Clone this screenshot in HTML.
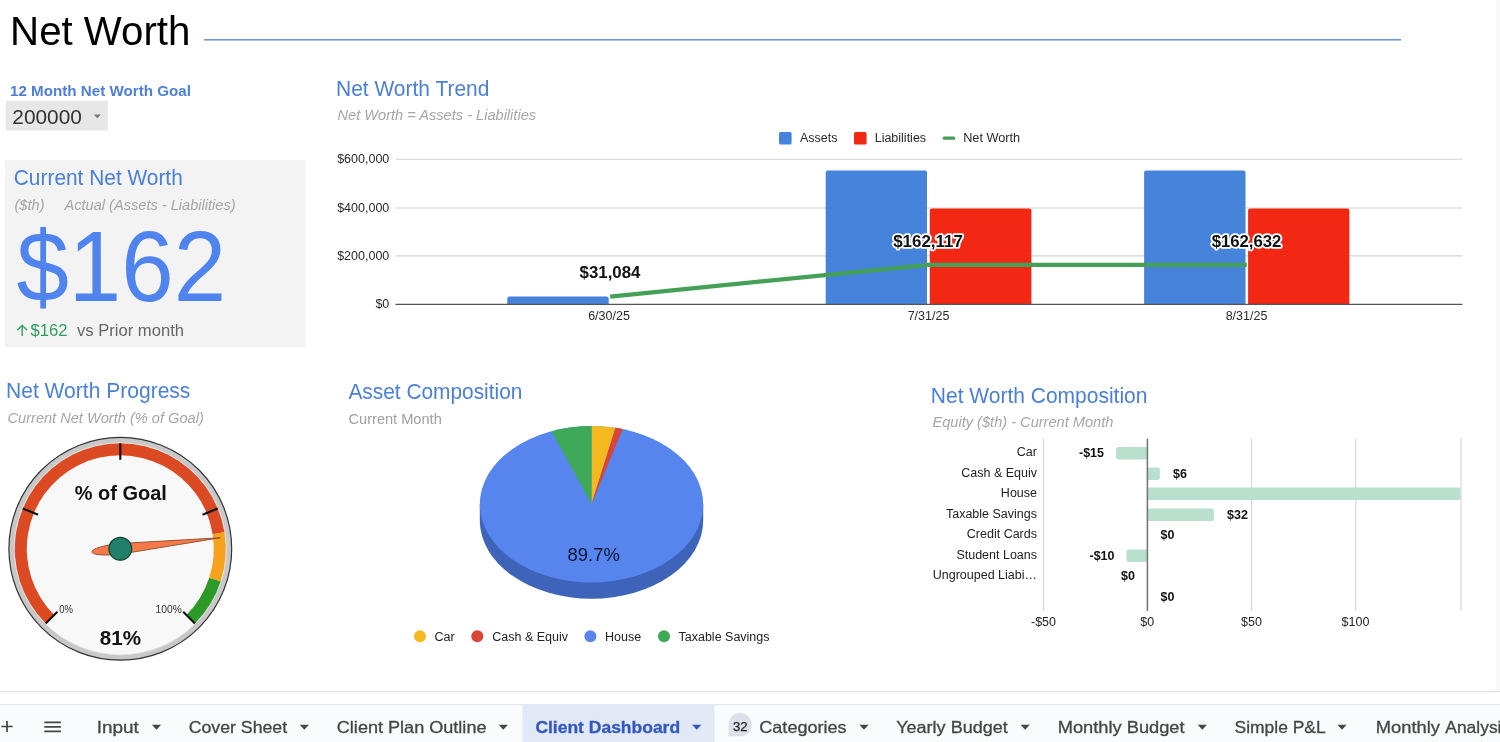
<!DOCTYPE html>
<html><head><meta charset="utf-8"><title>Net Worth</title>
<style>
html,body{margin:0;padding:0;background:#fff;width:1500px;height:742px;overflow:hidden}
svg{display:block;position:absolute;left:0;top:0}
text{font-family:"Liberation Sans",sans-serif}
.b{font-weight:bold}
.i{font-style:italic}
.blue{fill:#4a7fdc}
.gr{fill:#a6a6a6}
.ax{font-size:12.5px;fill:#2a2a2a}
.tab{font-size:16.5px;stroke-width:.3px}
.lg{font-size:12.5px;fill:#222}
</style></head><body>
<svg width="1500" height="742" viewBox="0 0 1500 742">
<rect width="1500" height="742" fill="#fff"/>
<!-- HEADER -->
<g id="header">
<text x="10.1" y="44.7" font-size="41.2" fill="#000" textLength="180.3" lengthAdjust="spacingAndGlyphs">Net Worth</text>
<rect x="204" y="39" width="1197" height="1.6" fill="#6f95dc"/>
<text x="10" y="96" font-size="13.8" class="b" fill="#4d7fdb" textLength="181" lengthAdjust="spacingAndGlyphs">12 Month Net Worth Goal</text>
<rect x="5.8" y="100.7" width="102" height="29.8" fill="#e7e7e7"/>
<text x="12.3" y="123.5" font-size="21" fill="#333" textLength="69.5" lengthAdjust="spacingAndGlyphs">200000</text>
<path d="M93.7 114.6h7.2l-3.6 3.7z" fill="#777"/>
</g>
<!-- CARD -->
<g id="card">
<rect x="4.8" y="160" width="300.8" height="187.3" fill="#f3f3f3"/>
<text x="13.8" y="185.2" font-size="21.5" class="blue" textLength="169" lengthAdjust="spacingAndGlyphs">Current Net Worth</text>
<text x="14.5" y="210" font-size="14.6" class="i gr">($th)</text>
<text x="64.5" y="210" font-size="14.6" class="i gr">Actual (Assets - Liabilities)</text>
<text x="16.4" y="300.5" font-size="99.3" fill="#4f83ee" textLength="209.7" lengthAdjust="spacingAndGlyphs">$162</text>
<path d="M22.2 335.9v-10.6M17.4 330.1l4.8-4.8 4.8 4.8" stroke="#3fa56b" stroke-width="1.5" fill="none"/>
<text x="30.5" y="335.5" font-size="16.6" fill="#2f9e5c">$162</text>
<text x="77" y="335.5" font-size="16.6" fill="#666">vs Prior month</text>
</g>
<!-- TREND -->
<g id="trend">
<text x="336" y="96.4" font-size="21.5" class="blue" textLength="153.4" lengthAdjust="spacingAndGlyphs">Net Worth Trend</text>
<text x="337.5" y="119.5" font-size="14.6" class="i gr">Net Worth = Assets - Liabilities</text>
<rect x="779" y="132" width="12.6" height="12.4" rx="1.5" fill="#4684dc"/>
<text x="800" y="141.7" class="ax">Assets</text>
<rect x="854" y="132" width="12.6" height="12.4" rx="1.5" fill="#f22814"/>
<text x="874.7" y="141.7" class="ax">Liabilities</text>
<rect x="942.6" y="136.6" width="12.6" height="3.2" rx="1.5" fill="#44a056"/>
<text x="963.2" y="141.7" class="ax" textLength="57" lengthAdjust="spacingAndGlyphs">Net Worth</text>
<g stroke="#d2d2d2" stroke-width="1.1">
<path d="M395.5 159.3H1462.5M395.5 208H1462.5M395.5 255.9H1462.5"/>
</g>
<text x="389.3" y="163.2" class="ax" text-anchor="end">$600,000</text>
<text x="389.3" y="211.7" class="ax" text-anchor="end">$400,000</text>
<text x="389.3" y="259.9" class="ax" text-anchor="end">$200,000</text>
<text x="389.3" y="308.2" class="ax" text-anchor="end">$0</text>
<path d="M507.3 304.4V298.6a2 2 0 0 1 2-2H606.7a2 2 0 0 1 2 2V304.4z" fill="#4684dc"/>
<path d="M825.7 304.4V172.4a2 2 0 0 1 2-2H925.0a2 2 0 0 1 2 2V304.4z" fill="#4684dc"/>
<path d="M929.8 304.4V210.5a2 2 0 0 1 2-2H1029.4a2 2 0 0 1 2 2V304.4z" fill="#f22814"/>
<path d="M1144.1 304.4V172.4a2 2 0 0 1 2-2H1243.5a2 2 0 0 1 2 2V304.4z" fill="#4684dc"/>
<path d="M1248.1 304.4V210.5a2 2 0 0 1 2-2H1347.4a2 2 0 0 1 2 2V304.4z" fill="#f22814"/>
<path d="M395.5 304.4H1462.5" stroke="#555" stroke-width="1.3"/>
<path d="M610.2 296.6L928.4 264.8H1246.8" stroke="#44a056" stroke-width="4.2" fill="none" stroke-linejoin="round"/>
<text x="610" y="277.6" font-size="16" class="b" fill="#111" text-anchor="middle" textLength="60.8" lengthAdjust="spacingAndGlyphs">$31,084</text>
<text x="928" y="246.500" font-size="16" class="b" fill="#111" stroke="#fff" stroke-width="3.500" paint-order="stroke" stroke-linejoin="round" text-anchor="middle" textLength="69.7" lengthAdjust="spacingAndGlyphs">$162,117</text>
<text x="1246.500" y="246.500" font-size="16" class="b" fill="#111" stroke="#fff" stroke-width="3.500" paint-order="stroke" stroke-linejoin="round" text-anchor="middle" textLength="69.7" lengthAdjust="spacingAndGlyphs">$162,632</text>
<text x="609" y="319.6" class="ax" text-anchor="middle">6/30/25</text>
<text x="928.500" y="319.6" class="ax" text-anchor="middle">7/31/25</text>
<text x="1246.500" y="319.6" class="ax" text-anchor="middle">8/31/25</text>
</g>
<!-- GAUGE -->
<g id="gauge">
<text x="6" y="398.4" font-size="21.5" class="blue" textLength="184.4" lengthAdjust="spacingAndGlyphs">Net Worth Progress</text>
<text x="7.5" y="423" font-size="14.6" class="i gr">Current Net Worth (% of Goal)</text>
<circle cx="120.3" cy="548.8" r="111.4" fill="#c8c8c8" stroke="#333" stroke-width="1.2"/>
<circle cx="120.3" cy="548.8" r="106" fill="#f8f8f8" stroke="#e2e2e2" stroke-width="0.8"/>
<path d="M45.70 623.40A105.5 105.5 0 1 1 224.50 532.30L212.65 534.17A93.5 93.5 0 1 0 54.19 614.91Z" fill="#dc4a23"/>
<path d="M224.50 532.30A105.5 105.5 0 0 1 220.64 581.40L209.22 577.69A93.5 93.5 0 0 0 212.65 534.17Z" fill="#f6a21e"/>
<path d="M220.64 581.40A105.5 105.5 0 0 1 194.90 623.40L186.41 614.91A93.5 93.5 0 0 0 209.22 577.69Z" fill="#2d9a27"/>
<path d="M45.70 623.40L57.37 611.73M22.83 508.43L38.07 514.74M120.30 443.30L120.30 459.80M217.77 508.43L202.53 514.74M194.90 623.40L183.23 611.73" stroke="#111" stroke-width="2.1" fill="none"/>
<path d="M220.19 537.77L120.88 554.07C104.98 555.82 92.32 555.11 91.97 551.93C91.62 548.75 103.82 545.29 119.72 543.53Z" fill="#f47a4a" stroke="#8c4a2c" stroke-width="0.9"/>
<circle cx="120.3" cy="548.8" r="11.4" fill="#1f7f68" stroke="#143d33" stroke-width="1.2"/>
<text x="120.8" y="499.5" font-size="20" class="b" fill="#111" text-anchor="middle">% of Goal</text>
<text x="120.4" y="644.7" font-size="21" class="b" fill="#111" text-anchor="middle" textLength="41.2" lengthAdjust="spacingAndGlyphs">81%</text>
<text x="59.2" y="613.4" font-size="10.3" fill="#333" textLength="13.8" lengthAdjust="spacingAndGlyphs">0%</text>
<text x="155.6" y="613.4" font-size="10.3" fill="#333" textLength="26.2" lengthAdjust="spacingAndGlyphs">100%</text>
</g>
<!-- PIE -->
<g id="pie">
<text x="348.4" y="399" font-size="21.5" class="blue" textLength="174" lengthAdjust="spacingAndGlyphs">Asset Composition</text>
<text x="348.5" y="423.5" font-size="14.6" fill="#a0a0a0">Current Month</text>
<path d="M479.8 504.2v16.3A111.7 78.2 0 0 0 703.2 520.5v-16.3z" fill="#3d64b9"/>
<ellipse cx="591.5" cy="504.2" rx="111.7" ry="78.2" fill="#5785ee"/>
<path d="M591.5 504.2L591.50 426.00A111.7 78.2 0 0 1 615.52 427.83Z" fill="#f4b91f"/>
<path d="M591.5 504.2L615.52 427.83A111.7 78.2 0 0 1 622.66 429.11Z" fill="#db4437"/>
<path d="M591.5 504.2L551.69 431.14A111.7 78.2 0 0 1 591.50 426.00Z" fill="#3eaa57"/>
<text x="593.7" y="561.2" font-size="18.4" fill="#0b1633" text-anchor="middle">89.7%</text>
<circle cx="420" cy="636.3" r="6" fill="#f4b91f"/>
<text x="434.5" y="641" class="lg">Car</text>
<circle cx="477.3" cy="636.3" r="6" fill="#db4437"/>
<text x="492.3" y="641" class="lg">Cash &amp; Equiv</text>
<circle cx="590.4" cy="636.3" r="6" fill="#5785ee"/>
<text x="605" y="641" class="lg">House</text>
<circle cx="664" cy="636.3" r="6" fill="#3eaa57"/>
<text x="678.5" y="641" class="lg">Taxable Savings</text>
</g>
<!-- HBAR -->
<g id="hbar">
<text x="930.8" y="403" font-size="21.5" class="blue" textLength="216.6" lengthAdjust="spacingAndGlyphs">Net Worth Composition</text>
<text x="932.5" y="426.5" font-size="14.6" class="i gr">Equity ($th) - Current Month</text>
<path d="M1043.5 438.6V611M1251.5 438.6V611M1355.8 438.6V611M1461 438.6V611" stroke="#d6d6d6" stroke-width="1.1" fill="none"/>
<rect x="1116.1" y="447.0" width="31.2" height="12.4" rx="2" fill="#b8e0cd"/>
<rect x="1147.3" y="467.5" width="12.5" height="12.4" rx="2" fill="#b8e0cd"/>
<rect x="1147.3" y="487.6" width="313.2" height="12.4" rx="2" fill="#b8e0cd"/>
<rect x="1147.3" y="508.5" width="66.6" height="12.4" rx="2" fill="#b8e0cd"/>
<rect x="1126.5" y="549.5" width="20.8" height="12.4" rx="2" fill="#b8e0cd"/>
<text x="1037" y="456.4" class="lg" text-anchor="end">Car</text>
<text x="1037" y="476.9" class="lg" text-anchor="end">Cash &amp; Equiv</text>
<text x="1037" y="497.4" class="lg" text-anchor="end">House</text>
<text x="1037" y="517.9" class="lg" text-anchor="end">Taxable Savings</text>
<text x="1037" y="538.4" class="lg" text-anchor="end">Credit Cards</text>
<text x="1037" y="558.9" class="lg" text-anchor="end">Student Loans</text>
<text x="1037" y="579.4" class="lg" text-anchor="end">Ungrouped Liabi…</text>
<path d="M1147.4 438.6V611" stroke="#777" stroke-width="1.6"/>
<text x="1104" y="457.0" font-size="12.5" class="b" fill="#111" text-anchor="end">-$15</text>
<text x="1173" y="477.5" font-size="12.5" class="b" fill="#111" text-anchor="start">$6</text>
<text x="1227" y="518.5" font-size="12.5" class="b" fill="#111" text-anchor="start">$32</text>
<text x="1160.5" y="539.0" font-size="12.5" class="b" fill="#111" text-anchor="start">$0</text>
<text x="1114.5" y="559.5" font-size="12.5" class="b" fill="#111" text-anchor="end">-$10</text>
<text x="1135" y="580.0" font-size="12.5" class="b" fill="#111" text-anchor="end">$0</text>
<text x="1160.5" y="600.5" font-size="12.5" class="b" fill="#111" text-anchor="start">$0</text>
<text x="1043.5" y="626" class="lg" text-anchor="middle">-$50</text>
<text x="1147.3" y="626" class="lg" text-anchor="middle">$0</text>
<text x="1251.5" y="626" class="lg" text-anchor="middle">$50</text>
<text x="1355.5" y="626" class="lg" text-anchor="middle">$100</text>
</g>
<!-- TABS -->
<g id="tabs">
<rect x="1495.8" y="0" width="4.2" height="691" fill="#f7f8f8"/>
<rect x="0" y="691" width="1500" height="1.2" fill="#e2e2e2"/>
<rect x="0" y="704" width="1500" height="38" fill="#f9fbfd"/>
<rect x="0" y="704" width="1500" height="1.2" fill="#e4e6ea"/>
<rect x="522.4" y="704" width="192" height="38" fill="#e1e8f6"/>
<path d="M1.4 726.5h11.2M7 720.9v11.2" stroke="#444" stroke-width="1.7" fill="none"/>
<path d="M44.3 722.3h16.6M44.3 726.8h16.6M44.3 731.3h16.6" stroke="#444" stroke-width="1.7" fill="none"/>
<text x="96.7" y="732.6" class="tab" fill="#444746" stroke="#444746" textLength="42.1" lengthAdjust="spacingAndGlyphs">Input</text>
<path d="M151.9 724.7h9.2l-4.6 5z" fill="#444746"/>
<text x="188.7" y="732.6" class="tab" fill="#444746" stroke="#444746" textLength="98.4" lengthAdjust="spacingAndGlyphs">Cover Sheet</text>
<path d="M299.7 724.7h9.2l-4.6 5z" fill="#444746"/>
<text x="336.8" y="732.6" class="tab" fill="#444746" stroke="#444746" textLength="149.7" lengthAdjust="spacingAndGlyphs">Client Plan Outline</text>
<path d="M498.7 724.7h9.2l-4.6 5z" fill="#444746"/>
<text x="535.4000000000001" y="732.6" class="tab b" fill="#3358c2" stroke="#3358c2" textLength="144.7" lengthAdjust="spacingAndGlyphs">Client Dashboard</text>
<path d="M692.1 724.7h9.2l-4.6 5z" fill="#3358c2"/>
<text x="759.3000000000001" y="732.6" class="tab" fill="#444746" stroke="#444746" textLength="87.3" lengthAdjust="spacingAndGlyphs">Categories</text>
<path d="M859.4 724.7h9.2l-4.6 5z" fill="#444746"/>
<text x="896.2" y="732.6" class="tab" fill="#444746" stroke="#444746" textLength="111.6" lengthAdjust="spacingAndGlyphs">Yearly Budget</text>
<path d="M1020.6 724.7h9.2l-4.6 5z" fill="#444746"/>
<text x="1057.7" y="732.6" class="tab" fill="#444746" stroke="#444746" textLength="126.9" lengthAdjust="spacingAndGlyphs">Monthly Budget</text>
<path d="M1197.7 724.7h9.2l-4.6 5z" fill="#444746"/>
<text x="1234.6000000000001" y="732.6" class="tab" fill="#444746" stroke="#444746" textLength="91.1" lengthAdjust="spacingAndGlyphs">Simple P&amp;L</text>
<path d="M1337.4 724.7h9.2l-4.6 5z" fill="#444746"/>
<text x="1375.8" y="732.6" class="tab" fill="#444746" stroke="#444746" textLength="64.2" lengthAdjust="spacingAndGlyphs">Monthly</text>
<text x="1445.3" y="732.6" class="tab" fill="#444746" stroke="#444746" textLength="64.9" lengthAdjust="spacingAndGlyphs">Analysis</text>
<path d="M728.6 736.3V724.7a11.6 11.6 0 1 1 11.6 11.6z" fill="#dde0e9"/>
<text x="740.3" y="730.6" font-size="13.4" fill="#1f1f1f" stroke="#1f1f1f" stroke-width="0.25" text-anchor="middle" textLength="14.6" lengthAdjust="spacingAndGlyphs">32</text>
</g>
</svg>
</body></html>
